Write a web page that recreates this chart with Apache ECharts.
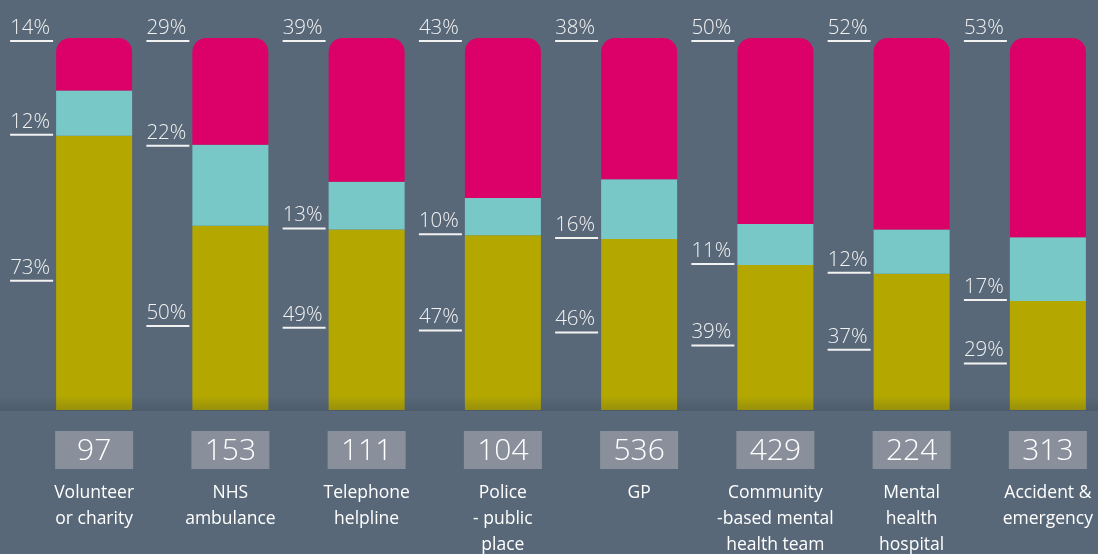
<!DOCTYPE html>
<html>
<head>
<meta charset="utf-8">
<script src="https://cdn.jsdelivr.net/npm/echarts@6/dist/echarts.min.js"></script>
<style>
  html, body { margin: 0; padding: 0; background: #586878; }
  #main { width: 1098px; height: 554px; }
</style>
</head>
<body>
<div id="main"></div>
<script>
  // data
  var categories = ['Volunteer\nor charity', 'NHS\nambulance', 'Telephone\nhelpline', 'Police\n- public\nplace',
                    'GP', 'Community\n-based mental\nhealth team', 'Mental\nhealth\nhospital', 'Accident &\nemergency'];
  var counts = [97, 153, 111, 104, 536, 429, 224, 313];
  var bottomPct = [73, 50, 49, 47, 46, 39, 37, 29];   // olive
  var middlePct = [12, 22, 13, 10, 16, 11, 12, 17];   // teal
  var topPct    = [14, 29, 39, 43, 38, 50, 52, 53];   // magenta

  var myChart = echarts.init(document.getElementById('main'));

  // bars fill to the top, so scale each stack to 100
  function share(arr, i) {
    return arr[i] / (bottomPct[i] + middlePct[i] + topPct[i]) * 100;
  }

  function labelFor(pos, dy) {
    return {
      show: true,
      position: pos,
      offset: [0, dy || 0],
      align: 'left',
      verticalAlign: 'bottom',
      formatter: function (p) { return '{t|' + p.data.pct + '%}\n{u|}'; },
      rich: {
        t: { color: '#f2f2f2', fontSize: 20.5, fontFamily: 'Open Sans', fontWeight: 300, lineHeight: 24 },
        u: { width: 43, height: 2, backgroundColor: '#f2f2f2' }
      }
    };
  }

  function build(arr, which) {
    return arr.map(function (v, i) {
      var item = { value: share(arr, i), pct: v };
      if (which === 'mid' && i === 1) {
        // on the ambulance bar the teal label sits at the top of the teal block
        item.label = labelFor([-46, 0], 2);
      }
      return item;
    });
  }

  var option = {
    backgroundColor: '#586878',
    animation: false,
    grid: { left: 26, width: 1090, top: 38, bottom: 144, outerBoundsMode: 'none' },
    xAxis: {
      type: 'category',
      data: categories,
      axisLine: { show: false },
      axisTick: { show: false },
      axisLabel: {
        margin: 22,
        interval: 0,
        formatter: function (v, i) {
          var lines = v.split('\n').map(function (l) { return '{n|' + l + '}'; });
          return '{box|' + counts[i] + '}\n{gap|}\n' + lines.join('\n');
        },
        rich: {
          box: { width: 78, height: 36, lineHeight: 36, padding: [2, 0, 0, 0], backgroundColor: '#8a909b', color: '#ffffff',
                 fontSize: 30, fontFamily: 'Open Sans', fontWeight: 300, align: 'center' },
          gap: { height: 12 },
          n: { color: '#ffffff', fontSize: 17.5, fontFamily: 'Open Sans', lineHeight: 26, align: 'center' }
        }
      }
    },
    yAxis: { type: 'value', min: 0, max: 100, show: false },
    series: [
      {
        type: 'bar', stack: 'all', barWidth: 76,
        data: build(bottomPct, 'bot'),
        itemStyle: { color: '#b4a800' },
        label: labelFor([-46, '50%'], 9)
      },
      {
        type: 'bar', stack: 'all', barWidth: 76,
        data: build(middlePct, 'mid'),
        itemStyle: { color: '#78c8c8' },
        label: labelFor([-46, '100%'], 0)
      },
      {
        type: 'bar', stack: 'all', barWidth: 76,
        data: build(topPct, 'top'),
        itemStyle: { color: '#dc0069', borderRadius: [14, 14, 0, 0] },
        label: labelFor([-46, 0], 4)
      }
    ],
    graphic: [
      {
        type: 'rect', z: 100, silent: true,
        shape: { x: 0, y: 396, width: 1098, height: 15 },
        style: {
          fill: new echarts.graphic.LinearGradient(0, 0, 0, 1, [
            { offset: 0, color: 'rgba(40,50,60,0)' },
            { offset: 1, color: 'rgba(40,50,60,0.22)' }
          ])
        }
      }
    ]
  };

  myChart.setOption(option);
</script>
</body>
</html>
